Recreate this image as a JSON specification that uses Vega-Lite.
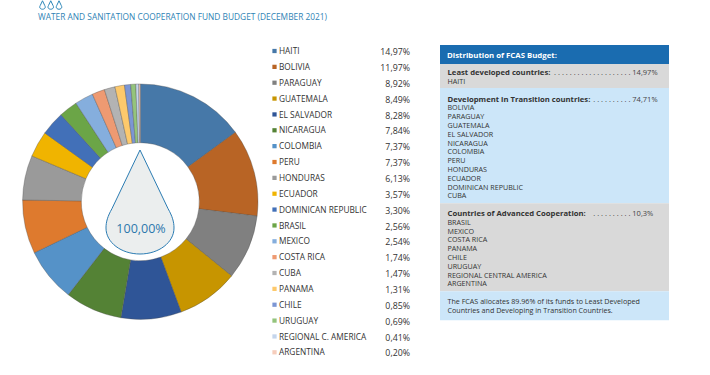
{"$schema":"https://vega.github.io/schema/vega-lite/v6.json","width":710,"height":375,"autosize":{"type":"none"},"padding":0,"background":"white","view":{"stroke":null},
"config":{"text":{"font":"Open Sans"}},
"datasets":{
"countries":[
{"country":"HAITI","value":14.97,"label":"14,97%","order":1},
{"country":"BOLIVIA","value":11.97,"label":"11,97%","order":2},
{"country":"PARAGUAY","value":8.92,"label":"8,92%","order":3},
{"country":"GUATEMALA","value":8.49,"label":"8,49%","order":4},
{"country":"EL SALVADOR","value":8.28,"label":"8,28%","order":5},
{"country":"NICARAGUA","value":7.84,"label":"7,84%","order":6},
{"country":"COLOMBIA","value":7.37,"label":"7,37%","order":7},
{"country":"PERU","value":7.37,"label":"7,37%","order":8},
{"country":"HONDURAS","value":6.13,"label":"6,13%","order":9},
{"country":"ECUADOR","value":3.57,"label":"3,57%","order":10},
{"country":"DOMINICAN REPUBLIC","value":3.30,"label":"3,30%","order":11},
{"country":"BRASIL","value":2.56,"label":"2,56%","order":12},
{"country":"MEXICO","value":2.54,"label":"2,54%","order":13},
{"country":"COSTA RICA","value":1.74,"label":"1,74%","order":14},
{"country":"CUBA","value":1.47,"label":"1,47%","order":15},
{"country":"PANAMA","value":1.31,"label":"1,31%","order":16},
{"country":"CHILE","value":0.85,"label":"0,85%","order":17},
{"country":"URUGUAY","value":0.69,"label":"0,69%","order":18},
{"country":"REGIONAL C. AMERICA","value":0.41,"label":"0,41%","order":19},
{"country":"ARGENTINA","value":0.20,"label":"0,20%","order":20}],
"bands":[
{"section":"header","from":-1.08,"to":1.08},
{"section":"least","from":1.08,"to":3.8},
{"section":"transition","from":3.8,"to":16.9},
{"section":"advanced","from":16.9,"to":26.9},
{"section":"note","from":26.9,"to":30.2}],
"panelTitles":[
{"row":2,"text":"Least developed countries:"},
{"row":5,"text":"Development in Transition countries:"},
{"row":18,"text":"Countries of Advanced Cooperation:"}],
"panelDots":[
{"row":2,"text":". . . . . . . . . . . . . . . . . . . ."},
{"row":5,"text":". . . . . . . . . ."},
{"row":18,"text":". . . . . . . . . ."}],
"panelValues":[
{"row":2,"text":"14,97%"},
{"row":5,"text":"74,71%"},
{"row":18,"text":"10,3%"}],
"panelLines":[
{"row":3,"text":"HAITI"},
{"row":6,"text":"BOLIVIA"},{"row":7,"text":"PARAGUAY"},{"row":8,"text":"GUATEMALA"},{"row":9,"text":"EL SALVADOR"},{"row":10,"text":"NICARAGUA"},{"row":11,"text":"COLOMBIA"},{"row":12,"text":"PERU"},{"row":13,"text":"HONDURAS"},{"row":14,"text":"ECUADOR"},{"row":15,"text":"DOMINICAN REPUBLIC"},{"row":16,"text":"CUBA"},
{"row":19,"text":"BRASIL"},{"row":20,"text":"MEXICO"},{"row":21,"text":"COSTA RICA"},{"row":22,"text":"PANAMA"},{"row":23,"text":"CHILE"},{"row":24,"text":"URUGUAY"},{"row":25,"text":"REGIONAL CENTRAL AMERICA"},{"row":26,"text":"ARGENTINA"},
{"row":28,"text":"The FCAS allocates 89.96% of its funds to Least Developed"},
{"row":29,"text":"Countries and Developing in Transition Countries."}]
},
"resolve":{"scale":{"x":"independent","y":"independent","color":"independent","theta":"independent"}},
"layer":[
{"data":{"name":"countries"},"mark":{"type":"arc","innerRadius":59,"outerRadius":117.7,"stroke":"#4a4a4a","strokeWidth":0.35},
"encoding":{"x":{"value":140.3},"y":{"value":201.7},
"theta":{"field":"value","type":"quantitative","stack":true},"order":{"field":"order","type":"quantitative"},
"color":{"field":"country","type":"nominal","legend":null,"sort":null,"scale":{"range":["#4678a8","#b86425","#808080","#c79500","#2f5597","#548235","#5592c8","#de7a2e","#9a9a9a","#f0b400","#4270b8","#6ba547","#85aedd","#ee9a72","#b3b3b3","#fdc96c","#7c96d4","#94c47c","#c4d5ec","#f6cdbc"]}}}},
{"data":{"values":[{"text":"100,00%"}]},"mark":{"type":"point","filled":true,"fill":"#ebeeee","stroke":"#2b7cb3","strokeWidth":1,"opacity":1,"size":10816,"shape":"M0,-1 L-0.54,0.13 C-0.62,0.27 -0.654,0.38 -0.654,0.5 C-0.654,0.78 -0.36,1 0,1 C0.36,1 0.654,0.78 0.654,0.5 C0.654,0.38 0.62,0.27 0.54,0.13 Z"},
"encoding":{"x":{"value":140},"y":{"value":202}}},
{"data":{"values":[{"text":"100,00%"}]},"mark":{"type":"text","fontSize":12.5,"color":"#2b78ad","align":"center","baseline":"middle","dy":0.6},
"encoding":{"x":{"value":141},"y":{"value":228},"text":{"field":"text"}}},
{"data":{"values":[{"i":1},{"i":2},{"i":3}]},"mark":{"type":"point","fill":"white","filled":true,"stroke":"#2b86b8","strokeWidth":1,"opacity":1,"size":72,"shape":"M0,-1 L-0.54,0.13 C-0.62,0.27 -0.654,0.38 -0.654,0.5 C-0.654,0.78 -0.36,1 0,1 C0.36,1 0.654,0.78 0.654,0.5 C0.654,0.38 0.62,0.27 0.54,0.13 Z"},
"encoding":{"x":{"field":"i","type":"quantitative","axis":null,"scale":{"domain":[1,3],"range":[42.5,59],"zero":false,"nice":false}},"y":{"value":5}}},
{"data":{"values":[{"text":"WATER AND SANITATION COOPERATION FUND BUDGET (DECEMBER 2021)"}]},"mark":{"type":"text","fontSize":8.35,"color":"#2f83b5","align":"left","baseline":"middle","dy":0.8},
"encoding":{"x":{"value":38},"y":{"value":16},"text":{"field":"text"}}},
{"mark":{"type":"rule","stroke":"#8fc3e0","strokeWidth":1},"encoding":{"x":{"value":40},"x2":{"value":78},"y":{"value":24}}},
{"data":{"name":"countries"},"mark":{"type":"point","shape":"square","filled":true,"size":18,"opacity":1},
"encoding":{"x":{"value":274.5},"y":{"field":"country","type":"nominal","sort":null,"axis":null,"scale":{"type":"point","padding":0,"range":[51,352.3]}},
"color":{"field":"country","type":"nominal","legend":null,"sort":null,"scale":{"range":["#4678a8","#b86425","#808080","#c79500","#2f5597","#548235","#5592c8","#de7a2e","#9a9a9a","#f0b400","#4270b8","#6ba547","#85aedd","#ee9a72","#b3b3b3","#fdc96c","#7c96d4","#94c47c","#c4d5ec","#f6cdbc"]}}}},
{"data":{"name":"countries"},"mark":{"type":"text","fontSize":8.3,"color":"#333333","align":"left","baseline":"middle","dy":1.1},
"encoding":{"x":{"value":279},"y":{"field":"country","type":"nominal","sort":null,"axis":null,"scale":{"type":"point","padding":0,"range":[51,352.3]}},"text":{"field":"country"}}},
{"data":{"name":"countries"},"mark":{"type":"text","fontSize":8.8,"color":"#333333","align":"right","baseline":"middle","dy":1.1},
"encoding":{"x":{"value":410},"y":{"field":"country","type":"nominal","sort":null,"axis":null,"scale":{"type":"point","padding":0,"range":[51,352.3]}},"text":{"field":"label"}}},
{"data":{"name":"bands"},"mark":{"type":"rect"},
"encoding":{"x":{"value":440},"x2":{"value":669},
"y":{"field":"from","type":"quantitative","axis":null,"scale":{"domain":[-2,32],"range":[36.9,336.1],"nice":false,"zero":false}},"y2":{"field":"to"},
"color":{"field":"section","type":"nominal","legend":null,"scale":{"domain":["header","least","transition","advanced","note"],"range":["#1a6cb0","#d9d9d9","#cce6f9","#d9d9d9","#cce6f9"]}}}},
{"data":{"values":[{"row":0,"text":"Distribution of FCAS Budget:"}]},"mark":{"type":"text","fontSize":7.8,"fontWeight":"bold","color":"white","align":"left","baseline":"middle","dy":1},
"encoding":{"x":{"value":447},"y":{"field":"row","type":"quantitative","axis":null,"scale":{"domain":[-2,32],"range":[36.9,336.1],"nice":false,"zero":false}},"text":{"field":"text"}}},
{"data":{"name":"panelTitles"},"mark":{"type":"text","fontSize":7.7,"fontWeight":"bold","color":"#333333","align":"left","baseline":"middle","dy":1},
"encoding":{"x":{"value":447.5},"y":{"field":"row","type":"quantitative","axis":null,"scale":{"domain":[-2,32],"range":[36.9,336.1],"nice":false,"zero":false}},"text":{"field":"text"}}},
{"data":{"name":"panelDots"},"mark":{"type":"text","fontSize":7.5,"color":"#444444","align":"right","baseline":"middle","dy":1},
"encoding":{"x":{"value":630.5},"y":{"field":"row","type":"quantitative","axis":null,"scale":{"domain":[-2,32],"range":[36.9,336.1],"nice":false,"zero":false}},"text":{"field":"text"}}},
{"data":{"name":"panelValues"},"mark":{"type":"text","fontSize":7.5,"color":"#444444","align":"left","baseline":"middle","dy":1},
"encoding":{"x":{"value":632.3},"y":{"field":"row","type":"quantitative","axis":null,"scale":{"domain":[-2,32],"range":[36.9,336.1],"nice":false,"zero":false}},"text":{"field":"text"}}},
{"data":{"name":"panelLines"},"mark":{"type":"text","fontSize":7.15,"color":"#333333","align":"left","baseline":"middle","dy":1},
"encoding":{"x":{"value":447.5},"y":{"field":"row","type":"quantitative","axis":null,"scale":{"domain":[-2,32],"range":[36.9,336.1],"nice":false,"zero":false}},"text":{"field":"text"}}}
]}
